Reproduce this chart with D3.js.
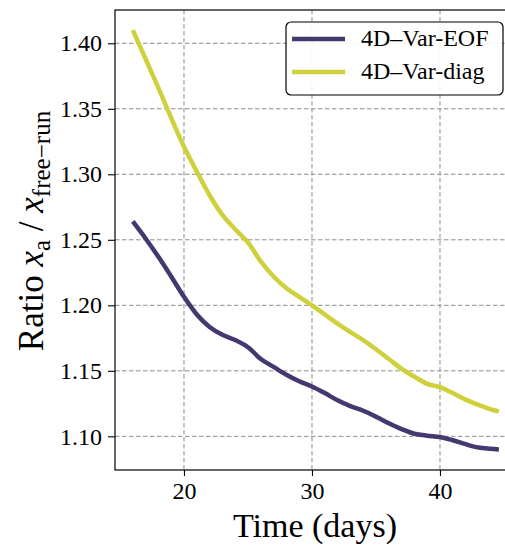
<!DOCTYPE html>
<html>
<head>
<meta charset="utf-8">
<script src="https://cdn.jsdelivr.net/npm/d3@7"></script>
<style>
  html, body { margin: 0; padding: 0; background: #fff; }
  svg { display: block; }
  text { font-family: "Liberation Serif", "Times New Roman", serif; fill: #000; }
</style>
</head>
<body>
<svg id="chart" width="505" height="546"></svg>
<script>
const days = [16,17,18,19,20,21,22,23,24,25,26,27,28,29,30,31,32,33,34,35,36,37,38,39,40,41,42,43,44,44.6];
const eofValues = [1.264,1.251,1.237,1.222,1.2065,1.193,1.1835,1.1775,1.1735,1.168,1.159,1.153,1.147,1.142,1.138,1.133,1.1275,1.123,1.1195,1.115,1.110,1.1055,1.102,1.1005,1.0995,1.097,1.094,1.0915,1.0905,1.090];
const diagValues = [1.410,1.388,1.366,1.343,1.321,1.302,1.284,1.269,1.258,1.248,1.2335,1.222,1.213,1.2065,1.200,1.193,1.186,1.1795,1.1735,1.1665,1.159,1.1515,1.1455,1.140,1.1375,1.133,1.128,1.124,1.1205,1.119];
const seriesNames = ["4D\u2013Var-EOF", "4D\u2013Var-diag"];
const seriesColors = ["#45386f", "#cfd13c"];
const xTicks = [20, 30, 40];
const yTicks = [1.10, 1.15, 1.20, 1.25, 1.30, 1.35, 1.40];

(function () {
const svg = d3.select("#chart");
const pLeft = 115, pTop = 10, pBottom = 470;
const x = d3.scaleLinear().domain([14.61, 46.5]).range([pLeft, pLeft + (46.5 - 14.61) * 12.8]);
const y = d3.scaleLinear().domain([1.0743, 1.4254]).range([pBottom, pTop]);
const pRight = x.range()[1];

// grid
const grid = svg.append("g");
grid.selectAll(".gx").data(xTicks).enter().append("line")
  .attr("x1", d => x(d)).attr("x2", d => x(d)).attr("y1", pTop).attr("y2", pBottom)
  .attr("stroke", "#8c8c8c").attr("stroke-width", 1).attr("stroke-dasharray", "4.5,2.5");
grid.selectAll(".gy").data(yTicks).enter().append("line")
  .attr("y1", d => y(d)).attr("y2", d => y(d)).attr("x1", pLeft).attr("x2", pRight)
  .attr("stroke", "#8c8c8c").attr("stroke-width", 1).attr("stroke-dasharray", "4.5,2.5");

// lines
const line = d3.line().x((d, i) => x(days[i])).y(d => y(d)).curve(d3.curveMonotoneX);
[eofValues, diagValues].forEach((vals, k) => {
  svg.append("path").datum(vals).attr("d", line)
    .attr("fill", "none").attr("stroke", seriesColors[k]).attr("stroke-width", 4.5)
    .attr("stroke-linejoin", "round").attr("stroke-linecap", "butt");
});

// axes
const xAxis = d3.axisBottom(x).tickValues(xTicks).tickFormat(d3.format("d")).tickSizeOuter(0).tickSizeInner(6).tickPadding(5);
const yAxis = d3.axisLeft(y).tickValues(yTicks).tickFormat(d3.format(".2f")).tickSizeOuter(0).tickSizeInner(7).tickPadding(6);
const gx = svg.append("g").attr("transform", `translate(0,${pBottom})`).call(xAxis);
const gy = svg.append("g").attr("transform", `translate(${pLeft},0)`).call(yAxis);
[gx, gy].forEach(g => {
  g.attr("font-family", null);
  g.select(".domain").remove();
  g.selectAll("line").attr("stroke", "#000").attr("stroke-width", 1.1);
  g.selectAll("text").style("font-family", '"Liberation Serif", serif').style("font-size", "24px").attr("fill", "#000");
});
gx.selectAll("text").attr("dy", "0.76em");

// spines
svg.append("rect").attr("x", pLeft).attr("y", pTop).attr("width", pRight - pLeft).attr("height", pBottom - pTop)
  .attr("fill", "none").attr("stroke", "#000").attr("stroke-width", 1.2);

// x label
svg.append("text").attr("x", 315).attr("y", 537).attr("text-anchor", "middle")
  .style("font-size", "34px").text("Time (days)");

// y label
const yl = svg.append("text").attr("transform", `translate(43,231) rotate(-90)`)
  .attr("text-anchor", "middle").style("font-size", "35px");
yl.append("tspan").text("Ratio ");
yl.append("tspan").style("font-style", "italic").text("x");
yl.append("tspan").attr("dy", 7).style("font-size", "25px").text("a");
yl.append("tspan").attr("dy", -7).text(" / ");
yl.append("tspan").style("font-style", "italic").text("x");
yl.append("tspan").attr("dy", 7).style("font-size", "25px").text("free\u2212run");

// legend
const lg = svg.append("g");
lg.append("rect").attr("x", 286).attr("y", 22).attr("width", 217).attr("height", 73).attr("rx", 5)
  .attr("fill", "#fff").attr("fill-opacity", 0.9).attr("stroke", "#000").attr("stroke-width", 1.2);
seriesNames.forEach((name, i) => {
  const ly = 39 + i * 33;
  lg.append("line").attr("x1", 292).attr("x2", 345).attr("y1", ly).attr("y2", ly)
    .attr("stroke", seriesColors[i]).attr("stroke-width", 4.5);
  lg.append("text").attr("x", 361).attr("y", ly + 7).style("font-size", "24px").text(name);
});
})();
</script>
</body>
</html>
